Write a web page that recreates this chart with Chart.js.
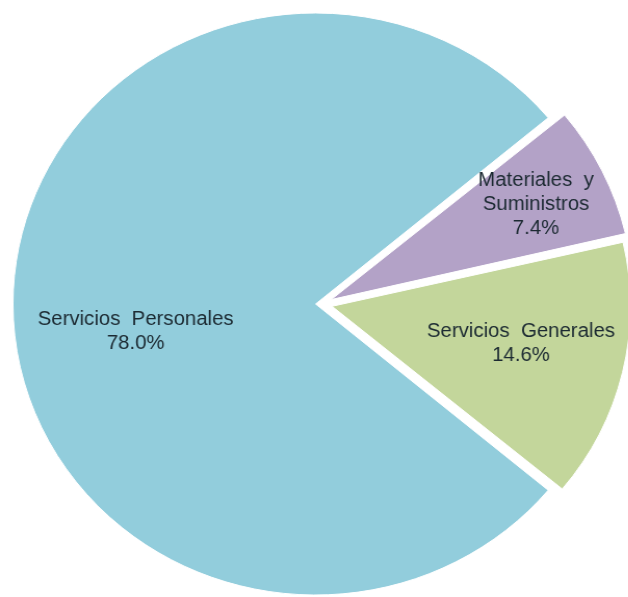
<!DOCTYPE html>
<html>
<head>
<meta charset="utf-8">
<script src="https://cdn.jsdelivr.net/npm/chart.js@4.4.1/dist/chart.umd.min.js"></script>
<style>
  html, body { margin: 0; padding: 0; background: #fff; overflow: hidden; }
  /* the original picture is a little wider than tall */
  #wrap { width: 604px; height: 597px; transform: scaleX(1.04); transform-origin: 0 0; }
</style>
</head>
<body>
<div id="wrap"><canvas id="pieChart" width="604" height="597"></canvas></div>
<script>
// data, clockwise from the lower right edge of the big slice
const categories = ["Servicios Personales", "Materiales y Suministros", "Servicios Generales"];
const labelLines = [["Servicios  Personales"], ["Materiales  y", "Suministros"], ["Servicios  Generales"]];
const percents = [78.0, 7.4, 14.6];
const colors = ["#92CDDC", "#B3A2C7", "#C3D69B"];

// where each label sits inside its slice (fraction of radius, angle shift in deg)
const labelRadius = [0.636, 0.803, 0.686];
const labelShift = [-8.9, 0.4, -1.6];

const sliceLabels = {
  id: "sliceLabels",
  afterDatasetsDraw(chart) {
    const ctx = chart.ctx;
    const meta = chart.getDatasetMeta(0);
    ctx.save();
    ctx.font = "19.6px 'Liberation Sans', Arial, sans-serif";
    ctx.fillStyle = "#1c2a32";
    ctx.textAlign = "center";
    ctx.textBaseline = "middle";
    meta.data.forEach((arc, i) => {
      const p = arc.getProps(["x", "y", "startAngle", "endAngle", "outerRadius"], true);
      const mid = (p.startAngle + p.endAngle) / 2 + labelShift[i] * Math.PI / 180;
      const r = p.outerRadius * labelRadius[i];
      const x = p.x + Math.cos(mid) * r;
      const y = p.y + Math.sin(mid) * r;
      const lines = labelLines[i].concat([percents[i].toFixed(1) + "%"]);
      const lh = 24;
      lines.forEach((t, k) => {
        ctx.fillText(t, x, y + (k - (lines.length - 1) / 2) * lh);
      });
    });
    ctx.restore();
  }
};

const pieChart = new Chart(document.getElementById("pieChart").getContext("2d"), {
  type: "pie",
  data: {
    labels: categories,
    datasets: [{
      data: percents,
      backgroundColor: colors,
      borderColor: "#ffffff",
      borderWidth: 1,
      offset: [24, 40, 40],  // chart.js moves a slice by offset/4
      radius: 285
    }]
  },
  options: {
    responsive: false,
    animation: false,
    rotation: 129.6,
    layout: { padding: { left: 15, top: 11 } },
    plugins: {
      legend: { display: false },
      tooltip: { enabled: false }
    }
  },
  plugins: [sliceLabels]
});
</script>
</body>
</html>
